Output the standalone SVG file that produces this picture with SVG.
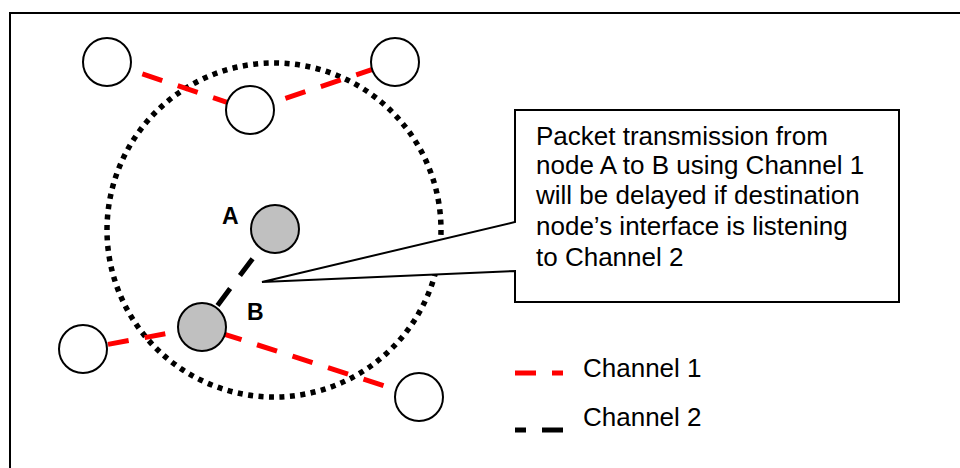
<svg xmlns="http://www.w3.org/2000/svg" width="960" height="468" viewBox="0 0 960 468">
  <style>
    .frame { fill: none; stroke: #000; stroke-width: 2; }
    .range { fill: none; stroke: #000; stroke-width: 5.5; stroke-dasharray: 5 5.49; }
    .ch1 { stroke: #ff0000; stroke-width: 5; stroke-dasharray: 21 16.3; fill: none; }
    .ch2 { stroke: #000; stroke-width: 5; stroke-dasharray: 21 16.3; fill: none; }
    .node { fill: #fff; stroke: #000; stroke-width: 2; }
    .active { fill: #c0c0c0; stroke: #000; stroke-width: 2; }
    .lbl { font-family: "Liberation Sans", Arial, sans-serif; font-size: 23px; font-weight: bold; fill: #000; }
    .txt { font-family: "Liberation Sans", Arial, sans-serif; font-size: 26px; fill: #000; }
    .callout { fill: #fff; stroke: #000; stroke-width: 2; stroke-linejoin: miter; }
  </style>

  <rect width="960" height="468" fill="#fff"/>
  <path class="frame" d="M10,470 V13 H962"/>

  <!-- interference range around node A -->
  <circle class="range" cx="274" cy="230" r="167"/>

  <g id="connectors">
    <line class="ch1" x1="107" y1="62" x2="250" y2="110"/>
    <line class="ch1" x1="250" y1="110" x2="395" y2="62"/>
    <line class="ch1" x1="202" y1="327" x2="83" y2="349"/>
    <line class="ch1" x1="419" y1="397" x2="202" y2="327"/>
    <line class="ch2" x1="275" y1="229" x2="202" y2="326"/>
  </g>

  <g id="node-n1"><circle class="node" cx="107" cy="62" r="24"/></g>
  <g id="node-n2"><circle class="node" cx="250" cy="110" r="24"/></g>
  <g id="node-n3"><circle class="node" cx="395" cy="62" r="24"/></g>
  <g id="node-n4"><circle class="node" cx="83" cy="349" r="24"/></g>
  <g id="node-n5"><circle class="node" cx="419" cy="397" r="24"/></g>
  <g id="node-a">
    <circle class="active" cx="275" cy="229" r="24"/>
    <text class="lbl" x="222" y="224">A</text>
  </g>
  <g id="node-b">
    <circle class="active" cx="202" cy="327" r="24"/>
    <text class="lbl" x="247" y="320">B</text>
  </g>

  <g id="callout">
    <path class="callout" d="M515,110 H899 V302 H515 V271 L262,282 L515,222 Z"/>
    <text class="txt" x="536" y="145">Packet transmission from</text>
    <text class="txt" x="536" y="174">node A to B using Channel 1</text>
    <text class="txt" x="536" y="204">will be delayed if destination</text>
    <text class="txt" x="536" y="235">node’s interface is listening</text>
    <text class="txt" x="536" y="266">to Channel 2</text>
  </g>

  <g id="legend">
    <line class="ch1" x1="515" y1="373" x2="563" y2="373" style="stroke-dasharray:21 16"/>
    <text class="txt" x="583" y="377">Channel 1</text>
    <line class="ch2" x1="563" y1="430" x2="515" y2="430" style="stroke-dasharray:21 16"/>
    <text class="txt" x="583" y="426">Channel 2</text>
  </g>
</svg>
